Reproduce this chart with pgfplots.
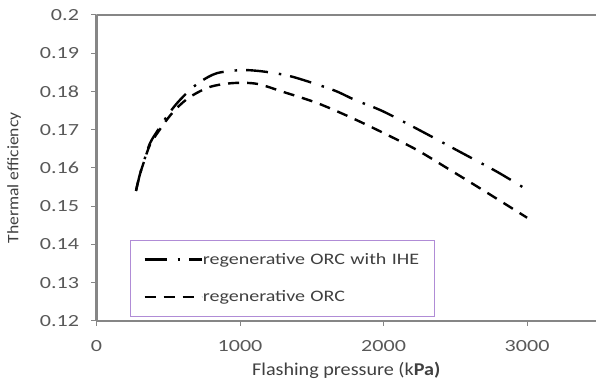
\documentclass[border=0pt]{standalone}
\usepackage{fontspec}
\setmainfont{Carlito}
\newfontfamily\tickfont[FakeStretch=1.3]{Carlito}
\newfontfamily\xtitlefont[FakeStretch=1.12]{Carlito}
\newfontfamily\ytitlefont[FakeStretch=1.1]{Carlito}
\newfontfamily\legfont[FakeStretch=1.25]{Carlito}
\usepackage{pgfplots}
\pgfplotsset{compat=1.18}
\definecolor{axgray}{RGB}{134,134,134}
\definecolor{ticktext}{RGB}{89,89,89}
\definecolor{titletext}{RGB}{64,64,64}
\definecolor{legpurple}{RGB}{176,140,214}
\begin{document}
\begin{tikzpicture}
\begin{axis}[
  name=ax,
  scale only axis,
  width=499.5bp, height=306bp,
  xmin=0, xmax=3480, ymin=0.12, ymax=0.2,
  axis lines*=left,
  axis line style={draw=axgray, line width=2.5bp},
  xtick={0,1000,2000,3000},
  ytick={0.12,0.13,0.14,0.15,0.16,0.17,0.18,0.19,0.2},
  scaled y ticks=false,
  /pgf/number format/assume math mode=true,
  /pgf/number format/1000 sep={},
  yticklabel style={/pgf/number format/fixed,/pgf/number format/precision=2},
  tick align=outside,
  major tick length=5bp,
  tick style={draw=axgray, line width=1bp},
  ticklabel style={font=\tickfont\fontsize{17bp}{20bp}\selectfont, text=ticktext},
  yticklabel style={xshift=-9bp},
  xticklabel style={yshift=-11bp},
  xlabel={Flashing pressure (k\textbf{Pa)}},
  ylabel={Thermal efficiency},
  xlabel style={font=\xtitlefont\fontsize{18bp}{21bp}\selectfont, text=titletext, yshift=-4bp},
  ylabel style={font=\ytitlefont\fontsize{16bp}{19bp}\selectfont, text=titletext, yshift=12bp, xshift=-10bp},
  legend cell align=left,
  legend style={
    at={(rel axis cs:0.0671,0.0131)}, anchor=south west,
    draw=legpurple, line width=1bp,
    inner xsep=13bp, inner ysep=13bp,
    row sep=25bp,
    font=\legfont\fontsize{16bp}{19bp}\selectfont,
    text=titletext,
    /tikz/every even column/.append style={column sep=4bp},
    nodes={inner sep=0pt, text width=219bp, align=left},
  },
  legend image code/.code={\draw[#1] (0bp,0bp) -- (57bp,0bp);},
]
\addplot[black, line width=2.4bp, smooth, tension=0.5,
  dash pattern=on 22bp off 11bp on 2.5bp off 9bp] coordinates {
 (275,0.1540) (300,0.1580) (326,0.1612) (373,0.1665) (442,0.1707)
 (500,0.1740) (560,0.1769) (640,0.1800) (721,0.1825) (840,0.1848)
 (1020,0.1856) (1188,0.1851) (1370,0.1838) (1648,0.1804) (1800,0.1778)
 (1997,0.1748) (2275,0.1694) (2533,0.1642) (2791,0.1590) (3000,0.1543)
};
\addlegendentry{regenerative ORC with IHE}
\addplot[black, line width=2.4bp, smooth, tension=0.5,
  dash pattern=on 11bp off 8bp] coordinates {
 (275,0.1540) (300,0.1580) (326,0.1611) (373,0.1661) (442,0.1701)
 (500,0.1731) (560,0.1757) (652,0.1786) (791,0.1812) (951,0.1822)
 (1118,0.1820) (1300,0.1799) (1536,0.1770) (1767,0.1733) (1997,0.1692)
 (2233,0.1647) (2463,0.1595) (2693,0.1542) (3000,0.1470)
};
\addlegendentry{regenerative ORC}
\draw[draw=axgray, line width=2.5bp] (rel axis cs:0,1) -- (rel axis cs:1,1);
\end{axis}
\pgfresetboundingbox
\path ([shift={(-96.5bp,-62bp)}]ax.south west) rectangle ([shift={(0bp,15bp)}]ax.north east);
\end{tikzpicture}
\end{document}
